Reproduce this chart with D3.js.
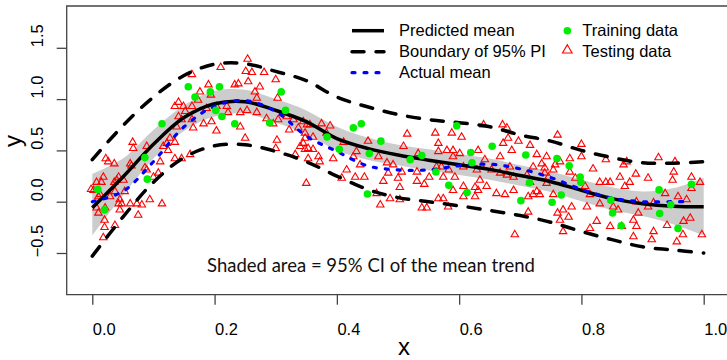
<!DOCTYPE html>
<html>
<head>
<meta charset="utf-8">
<script src="https://cdn.jsdelivr.net/npm/d3@7"></script>
<style>
  body { margin: 0; background: #fff; }
  svg { display: block; font-family: "Liberation Sans", Arial, sans-serif; }
</style>
</head>
<body>
<svg id="chart" width="727" height="360"></svg>
<script>
// curve estimates read on a grid of x
var gridX = [0, 0.05, 0.1, 0.15, 0.2, 0.25, 0.3, 0.35, 0.4, 0.45, 0.5, 0.55, 0.6, 0.65, 0.7, 0.75, 0.8, 0.85, 0.9, 0.95, 1.0];
var predMean = [-0.06, 0.24, 0.56, 0.82, 0.955, 0.975, 0.89, 0.78, 0.615, 0.52, 0.455, 0.405, 0.36, 0.315, 0.255, 0.195, 0.11, 0.03, -0.02, -0.045, -0.05];
var piUpper = [0.41, 0.74, 1.02, 1.23, 1.34, 1.345, 1.27, 1.18, 1.02, 0.925, 0.85, 0.80, 0.77, 0.73, 0.65, 0.59, 0.50, 0.43, 0.38, 0.375, 0.39];
var piLower = [-0.53, -0.15, 0.19, 0.43, 0.545, 0.555, 0.49, 0.39, 0.25, 0.12, 0.04, 0.0, -0.04, -0.085, -0.135, -0.20, -0.29, -0.37, -0.44, -0.47, -0.50];
var ciUpper = [0.27, 0.42, 0.70, 0.94, 1.08, 1.09, 1.0, 0.89, 0.73, 0.625, 0.555, 0.51, 0.465, 0.42, 0.355, 0.295, 0.215, 0.14, 0.10, 0.13, 0.23];
var ciLower = [-0.33, 0.06, 0.42, 0.69, 0.83, 0.86, 0.77, 0.66, 0.50, 0.41, 0.355, 0.305, 0.26, 0.215, 0.155, 0.095, 0.005, -0.08, -0.14, -0.22, -0.33];
var actualX = [0, 0.05, 0.1, 0.15, 0.2, 0.25, 0.3, 0.35, 0.4, 0.45, 0.5, 0.55, 0.6, 0.65, 0.7, 0.75, 0.8, 0.85, 0.9, 0.95, 0.98];
var actualMean = [0.0, 0.1, 0.39, 0.73, 0.93, 0.985, 0.88, 0.64, 0.49, 0.35, 0.31, 0.31, 0.35, 0.365, 0.32, 0.235, 0.12, 0.035, 0.0, 0.0, 0.0];

var trainPts = [
  [0.009,0.12],[0.020,-0.08],[0.086,0.43],[0.090,0.22],[0.114,0.76],[0.157,1.12],[0.168,1.02],[0.193,1.07],
  [0.208,1.12],[0.202,0.89],[0.212,0.83],[0.233,0.76],[0.290,0.77],[0.309,1.07],[0.316,0.89],[0.384,0.63],
  [0.427,0.72],[0.440,0.76],[0.404,0.51],[0.472,0.59],[0.453,0.47],[0.520,0.41],[0.539,0.45],[0.562,0.29],
  [0.596,0.74],[0.583,0.16],[0.619,0.48],[0.621,0.38],[0.613,0.09],[0.450,0.075],[0.654,0.54],[0.709,0.455],
  [0.701,0.01],[0.715,0.185],[0.760,0.42],[0.780,0.35],[0.798,0.24],[0.799,0.19],[0.752,-0.005],[0.767,0.065],
  [0.848,0.015],[0.851,-0.11],[0.865,-0.235],[0.927,0.115],[0.928,-0.115],[0.946,-0.03],[0.958,-0.26],[0.980,0.17]
];

var testPts = [
  [0.254,1.39],[0.21,1.31],[0.163,1.24],[0.251,1.27],[0.261,1.26],[0.281,1.26],[0.255,1.17],[0.274,1.12],
  [0.300,1.19],[0.239,1.15],[0.233,1.14],[0.190,1.14],[0.176,1.07],[0.194,1.04],[0.173,0.99],[0.141,0.97],
  [0.135,0.93],[0.149,0.93],[0.152,0.88],[0.141,0.83],[0.163,0.93],[0.187,0.91],[0.203,0.93],[0.220,0.93],
  [0.222,0.87],[0.242,0.87],[0.253,0.89],[0.269,0.87],[0.266,1.07],[0.269,1.01],[0.303,1.01],[0.296,0.76],
  [0.285,0.81],[0.304,0.80],[0.318,0.83],[0.329,0.80],[0.322,0.70],[0.337,0.72],[0.351,0.75],[0.348,0.62],
  [0.353,0.52],[0.340,0.54],[0.332,0.46],[0.302,0.60],[0.300,0.52],[0.250,0.62],[0.242,0.73],[0.203,0.69],
  [0.195,0.78],[0.182,0.76],[0.165,0.72],[0.163,0.80],[0.146,0.80],[0.138,0.73],[0.350,0.18],[0.160,0.46],
  [0.135,0.42],[0.146,0.42],[0.124,0.50],[0.135,0.58],[0.122,0.57],[0.116,0.54],[0.127,0.62],[0.111,0.39],
  [0.066,0.58],[0.067,0.52],[0.022,0.42],[0.026,0.39],[0.089,0.54],[0.089,0.31],[0.086,0.33],[0.062,0.37],
  [0.064,0.35],[0.043,0.24],[0.040,0.21],[0.051,0.21],[0.018,0.24],[0.015,0.19],[0.002,0.11],[0.013,0.07],
  [0.029,0.05],[0.037,0.10],[0.053,0.10],[0.045,0.02],[0.048,-0.02],[0.062,-0.02],[0.073,-0.02],[0.081,-0.03],
  [0.094,0.02],[0.114,-0.02],[0.100,0.24],[0.108,0.28],[0.045,-0.08],[0.075,-0.13],[0.007,-0.06],[0.010,-0.11],
  [0.021,-0.06],[-0.002,0.12],[0.007,0.19],[0.036,0.37],[0.036,0.19],[0.010,0.05],[0.020,-0.18],[0.020,-0.25],
  [0.018,-0.35],[0.037,-0.23],[0.043,-0.02],
  [0.345,0.78],[0.356,0.75],[0.348,0.67],[0.361,0.63],[0.345,0.57],[0.348,0.51],[0.361,0.51],[0.375,0.76],
  [0.389,0.74],[0.383,0.67],[0.353,0.42],[0.370,0.44],[0.372,0.39],[0.394,0.42],[0.408,0.23],[0.411,0.58],
  [0.416,0.31],[0.427,0.44],[0.432,0.49],[0.438,0.36],[0.430,0.24],[0.445,0.24],[0.451,0.59],[0.468,0.44],
  [0.482,0.38],[0.492,0.36],[0.484,0.28],[0.500,0.23],[0.503,0.14],[0.506,0.29],[0.509,0.54],[0.515,0.66],
  [0.531,0.20],[0.531,0.29],[0.543,0.17],[0.551,0.24],[0.561,0.67],[0.566,0.57],[0.566,0.49],[0.580,0.50],
  [0.590,0.50],[0.590,0.44],[0.601,0.47],[0.588,0.67],[0.604,0.63],[0.571,0.34],[0.583,0.31],[0.593,0.24],
  [0.574,0.24],[0.607,0.34],[0.631,0.50],[0.629,0.31],[0.637,0.34],[0.634,0.21],[0.626,0.14],[0.631,0.11],
  [0.626,0.05],[0.607,0.15],[0.590,0.11],[0.574,0.03],[0.566,0.03],[0.547,-0.06],[0.539,-0.06],[0.582,-0.05],
  [0.607,0.05],[0.640,0.75],[0.671,0.75],[0.678,0.72],[0.680,0.62],[0.697,0.59],[0.672,0.57],[0.686,0.50],
  [0.667,0.44],[0.683,0.34],[0.642,0.41],[0.653,0.31],[0.667,0.28],[0.678,0.26],[0.689,0.24],[0.711,0.26],
  [0.716,0.19],[0.721,0.34],[0.727,0.46],[0.716,0.55],[0.740,0.33],[0.746,0.24],[0.645,0.15],[0.661,0.08],
  [0.675,0.07],[0.689,0.11],[0.721,0.07],[0.732,0.07],[0.713,0.05],[0.713,-0.10],[0.691,-0.32],[0.503,0.02],
  [0.487,0.03],[0.471,-0.03],[0.465,0.08],[0.476,0.20],[0.533,0.47],[0.563,0.34],
  [0.761,0.65],[0.800,0.56],[0.743,0.44],[0.765,0.39],[0.781,0.42],[0.800,0.44],[0.757,0.36],[0.735,0.37],
  [0.754,0.31],[0.740,0.28],[0.781,0.29],[0.790,0.23],[0.819,0.32],[0.840,0.41],[0.869,0.36],[0.874,0.39],
  [0.889,0.27],[0.909,0.23],[0.926,0.43],[0.953,0.39],[0.951,0.29],[0.949,0.21],[0.863,0.24],[0.879,0.19],
  [0.830,0.19],[0.840,0.19],[0.847,0.19],[0.871,0.15],[0.806,0.15],[0.814,0.07],[0.830,-0.02],[0.809,-0.05],
  [0.784,-0.05],[0.770,-0.08],[0.754,0.07],[0.743,0.18],[0.727,0.10],[0.852,-0.05],[0.860,-0.08],[0.890,0.00],
  [0.893,-0.11],[0.909,-0.05],[0.918,-0.01],[0.885,-0.18],[0.890,-0.24],[0.866,-0.24],[0.847,-0.24],[0.825,-0.19],
  [0.814,-0.26],[0.779,-0.15],[0.765,-0.18],[0.770,-0.29],[0.918,-0.29],[0.915,-0.37],[0.885,-0.34],[0.940,-0.23],
  [0.967,-0.19],[0.978,-0.16],[0.966,-0.32],[0.997,-0.32],[0.956,-0.39],[0.937,0.08],[0.958,0.05],[0.972,0.02],
  [0.980,0.13],[0.994,0.19],[0.980,0.24],[0.761,-0.11]
];

var xTicks = [0, 0.2, 0.4, 0.6, 0.8, 1.0];
var yTicks = [-0.5, 0, 0.5, 1.0, 1.5];
var legendLines = ["Predicted mean", "Boundary of 95% PI", "Actual mean"];
var legendPoints = ["Training data", "Testing data"];
var note = "Shaded area = 95% CI of the mean trend";

var svg = d3.select("#chart");
var box = {left: 66.7, right: 729, top: 6, bottom: 294.7};

var x = d3.scaleLinear().domain([0, 1]).range([92.3, 703.7]);
var y = d3.scaleLinear().domain([0, 1]).range([201.7, 99.1]);

var clip = svg.append("clipPath").attr("id", "plotclip")
  .append("rect").attr("x", box.left).attr("y", box.top)
  .attr("width", box.right - box.left).attr("height", box.bottom - box.top);

var plot = svg.append("g").attr("clip-path", "url(#plotclip)");

// CI band
var band = d3.area()
  .x(function(d, i) { return x(gridX[i]); })
  .y0(function(d, i) { return y(ciLower[i]); })
  .y1(function(d, i) { return y(ciUpper[i]); })
  .curve(d3.curveCatmullRom.alpha(0.5));
plot.append("path").datum(gridX).attr("d", band).attr("fill", "#cccccc");

// testing data
var tri = d3.symbol().type(d3.symbolTriangle).size(24);
plot.selectAll(".test").data(testPts).enter().append("path")
  .attr("class", "test")
  .attr("d", tri)
  .attr("transform", function(d) { return "translate(" + x(d[0]) + "," + y(d[1]) + ")"; })
  .attr("fill", "none").attr("stroke", "#ff0000").attr("stroke-width", 1.1);

function curveLine(xs, ys) {
  return d3.line()
    .x(function(d, i) { return x(xs[i]); })
    .y(function(d, i) { return y(ys[i]); })
    .curve(d3.curveCatmullRom.alpha(0.5))(ys);
}

plot.append("path").attr("d", curveLine(gridX, piUpper))
  .attr("fill", "none").attr("stroke", "#000").attr("stroke-width", 3.5)
  .attr("stroke-dasharray", "12,12").attr("stroke-linecap", "round");
plot.append("path").attr("d", curveLine(gridX, piLower))
  .attr("fill", "none").attr("stroke", "#000").attr("stroke-width", 3.5)
  .attr("stroke-dasharray", "12,12").attr("stroke-linecap", "round");
plot.append("path").attr("d", curveLine(gridX, predMean))
  .attr("fill", "none").attr("stroke", "#000").attr("stroke-width", 3.5);
plot.append("path").attr("d", curveLine(actualX, actualMean))
  .attr("fill", "none").attr("stroke", "#0000ff").attr("stroke-width", 3.2)
  .attr("stroke-dasharray", "3,9").attr("stroke-linecap", "round");

// training data
plot.selectAll(".train").data(trainPts).enter().append("circle")
  .attr("class", "train")
  .attr("cx", function(d) { return x(d[0]); })
  .attr("cy", function(d) { return y(d[1]); })
  .attr("r", 3.8)
  .attr("fill", "#00ee00");

// frame
svg.append("path")
  .attr("d", "M" + box.right + "," + box.top + "H" + box.left + "V" + box.bottom + "H" + box.right)
  .attr("fill", "none").attr("stroke", "#444").attr("stroke-width", 1.3);

// axes
var xAxis = svg.append("g").attr("transform", "translate(0," + box.bottom + ")")
  .call(d3.axisBottom(x).tickValues(xTicks).tickSize(10).tickFormat(d3.format(".1f")));
xAxis.select(".domain").remove();
xAxis.selectAll("line").attr("stroke", "#444").attr("stroke-width", 1.3);
xAxis.selectAll("text").attr("font-size", 16.5).attr("fill", "#000")
  .attr("font-family", "Liberation Sans, Arial, sans-serif")
  .attr("y", 28.3).attr("dx", 11.5);

var yAxis = svg.append("g").attr("transform", "translate(" + box.left + ",0)")
  .call(d3.axisLeft(y).tickValues(yTicks).tickSize(10).tickFormat(d3.format(".1f")));
yAxis.select(".domain").remove();
yAxis.selectAll("line").attr("stroke", "#444").attr("stroke-width", 1.3);
yAxis.selectAll("text")
  .attr("font-size", 16.5).attr("fill", "#000")
  .attr("font-family", "Liberation Sans, Arial, sans-serif")
  .attr("x", null).attr("dy", null).attr("text-anchor", "middle")
  .attr("transform", "translate(-23.7,-12.5) rotate(-90)");

svg.append("text").attr("x", 404).attr("y", 355).attr("text-anchor", "middle")
  .attr("font-size", 24).text("x");
svg.append("text").attr("transform", "translate(21,141) rotate(-90)").attr("text-anchor", "middle")
  .attr("font-size", 24).text("y");

// note
svg.append("text").attr("x", 371).attr("y", 272).attr("text-anchor", "middle")
  .attr("font-family", "Lato, 'Open Sans', sans-serif").attr("font-size", 18.5)
  .attr("fill", "#111").text(note);

// legend
var lg = svg.append("g");
var rowY = [30.7, 51.7, 72.7];
var lineStyles = [
  {stroke: "#000", dash: null, cap: "butt", w: 3.5},
  {stroke: "#000", dash: "12,12", cap: "round", w: 3.5},
  {stroke: "#0000ff", dash: "3,9", cap: "round", w: 3.2}
];
legendLines.forEach(function(t, i) {
  var s = lineStyles[i];
  lg.append("line").attr("x1", 352).attr("x2", 384).attr("y1", rowY[i]).attr("y2", rowY[i])
    .attr("stroke", s.stroke).attr("stroke-width", s.w)
    .attr("stroke-dasharray", s.dash).attr("stroke-linecap", s.cap);
  lg.append("text").attr("x", 399).attr("y", rowY[i] + 5.5).attr("font-size", 16.5).text(t);
});
lg.append("circle").attr("cx", 567.3).attr("cy", rowY[0]).attr("r", 3.8).attr("fill", "#00ee00");
lg.append("path").attr("d", d3.symbol().type(d3.symbolTriangle).size(40))
  .attr("transform", "translate(567.3," + (rowY[1] - 1.5) + ")")
  .attr("fill", "none").attr("stroke", "#ff0000").attr("stroke-width", 1.1);
legendPoints.forEach(function(t, i) {
  lg.append("text").attr("x", 582.3).attr("y", rowY[i] + 5.5).attr("font-size", 16.5).text(t);
});
</script>
</body>
</html>
